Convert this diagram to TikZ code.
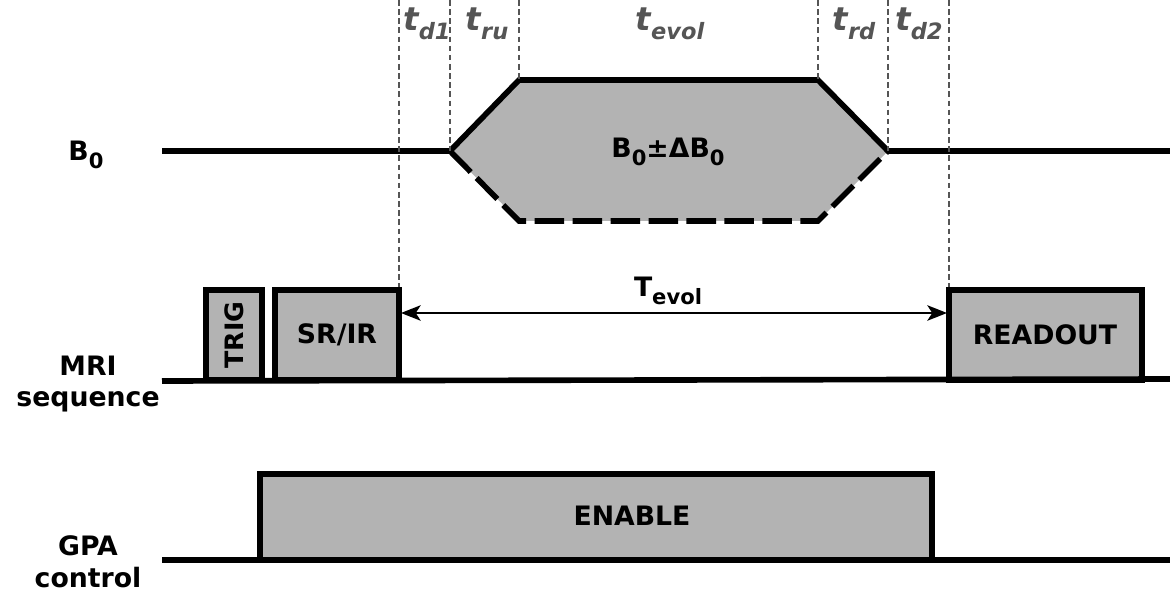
\documentclass[tikz,border=0pt]{standalone}
\usepackage{fontspec}
\setmainfont{DejaVu Sans}
\usepackage{tikz}
\usetikzlibrary{arrows.meta}
\definecolor{pulsefill}{HTML}{B3B3B3}
\definecolor{guidegray}{HTML}{555555}
\newcommand{\lowr}[2][14]{\raisebox{-0.5ex}{\fontsize{#1}{#1}\selectfont #2}}
\tikzset{
  sig/.style={line width=4pt,color=black},
  pulse/.style={line width=4pt,draw=black,fill=pulsefill},
  guide/.style={line width=1.4pt,color=guidegray,dash pattern=on 4pt off 2.5pt},
  lbl/.style={font=\fontsize{19}{22}\selectfont\bfseries,align=center,inner sep=0pt},
  tlbl/.style={font=\fontsize{23}{26}\selectfont\bfseries\itshape,color=guidegray,inner sep=0pt},
  arr/.style={{Stealth[inset=3.5pt,length=14pt,width=11pt]}-{Stealth[inset=3.5pt,length=14pt,width=11pt]},line width=1.4pt}}
\begin{document}
\begin{tikzpicture}[x=0.025cm,y=-0.025cm]
\useasboundingbox (0,0) rectangle (1170,596);
% B0 ramp points
\coordinate (top) at (0,0);
\coordinate (d1) at (399,290);
\coordinate (ru0) at (450,151);
\coordinate (ru1) at (519,80);
\coordinate (rd0) at (818,80);
\coordinate (rd1) at (888,151);
\coordinate (d2) at (949,290);
\coordinate (lo0) at (519,221);
\coordinate (lo1) at (818,221);
% B0 field
\fill[pulsefill] (ru0) -- (ru1) -- (rd0) -- (rd1) -- (lo1) -- (lo0) -- cycle;
\draw[sig] (162,151) -- (ru0) -- (ru1) -- (rd0) -- (rd1) -- (1170,151);
\draw[sig,dash pattern=on 21pt off 6pt] (ru0) -- (lo0) -- (lo1) -- (rd1);
\foreach \c in {d1,ru0,ru1,rd0,rd1,d2}
  \draw[guide] (\c |- top) -- (\c);
\node[lbl] (bzero) at (86,155) {B\lowr[15]{0}};
\node[lbl] (bdelta) at (668,152) {B\lowr[15]{0}±ΔB\lowr[15]{0}};
\node[tlbl] (td1) at (427,24) {t\lowr[16]{d1}};
\node[tlbl] (tru) at (487,24) {t\lowr[16]{ru}};
\node[tlbl] (tevol) at (670,24) {t\lowr[16]{evol}};
\node[tlbl] (trd) at (854,24) {t\lowr[16]{rd}};
\node[tlbl] (td2) at (919,24) {t\lowr[16]{d2}};
% MRI sequence
\draw[pulse] (206,380) rectangle (262,290);
\draw[pulse] (275,380) rectangle (399,290);
\draw[pulse] (949,380) rectangle (1142,290);
\draw[sig] (162,381) -- (1170,379);
\node[lbl,font=\fontsize{18}{20}\selectfont\bfseries,rotate=90] (trig) at (234,335) {TRIG};
\node[lbl] (srir) at (337,335) {SR/IR};
\node[lbl] (readout) at (1045,335) {READOUT};
\node[lbl] (mri) at (88,384) {MRI\\[0pt]sequence};
\coordinate (tL) at (401,313);
\coordinate (tR) at (947,313);
\draw[arr] (tL) -- (tR);
\node[lbl] (Tevol) at (668,291) {T\lowr[15]{evol}};
% GPA control
\draw[pulse] (260,560) rectangle (932,474);
\draw[sig] (162,560) -- (1170,560);
\node[lbl] (enable) at (632,516) {ENABLE};
\node[lbl] (gpa) at (88,562) {GPA\\[1pt]control};
\end{tikzpicture}
\end{document}
